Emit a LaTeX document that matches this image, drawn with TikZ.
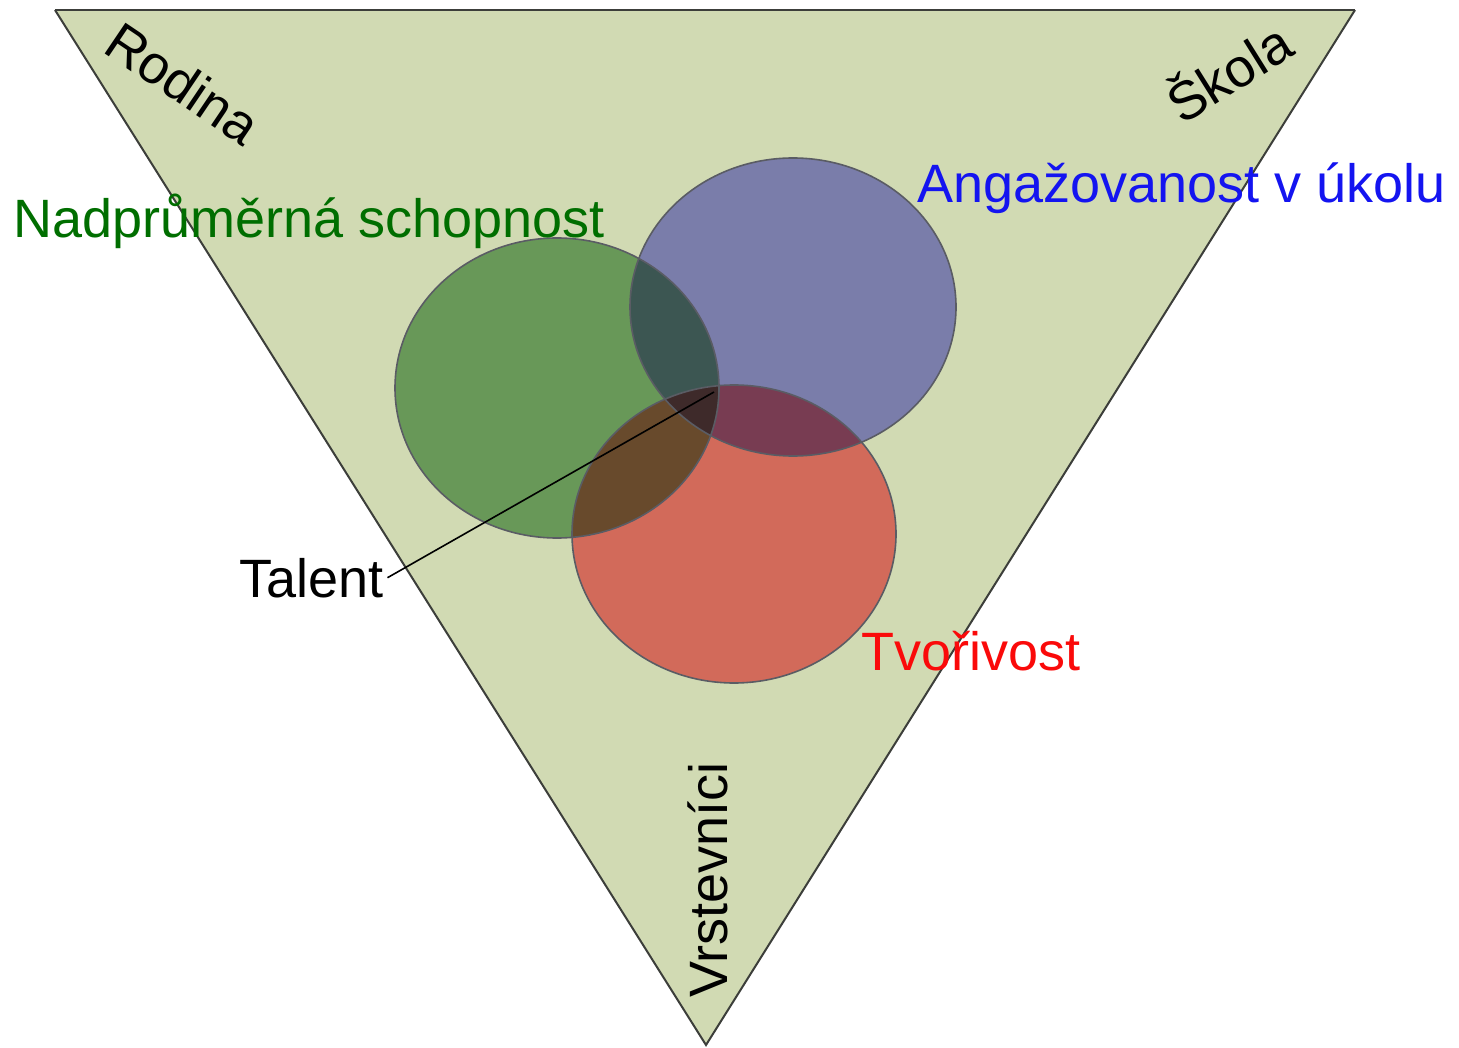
\documentclass[tikz,border=0pt]{standalone}
\usepackage{fontspec}
\setmainfont{Liberation Sans}
\definecolor{tri}{RGB}{209,218,179}
\definecolor{triedge}{RGB}{60,62,58}
\definecolor{cgreen}{RGB}{104,152,88}
\definecolor{cblue}{RGB}{122,125,170}
\definecolor{cred}{RGB}{210,106,90}
\definecolor{cgb}{RGB}{60,86,82}
\definecolor{cbr}{RGB}{120,60,82}
\definecolor{cgr}{RGB}{104,74,44}
\definecolor{cgbr}{RGB}{62,42,42}
\definecolor{circedge}{RGB}{90,92,100}
\definecolor{tgreen}{RGB}{0,110,0}
\definecolor{tblue}{RGB}{20,20,240}
\definecolor{tred}{RGB}{250,10,10}
\tikzset{
  lbl/.style={inner sep=4pt, font=\fontsize{54}{62}\selectfont},
  circline/.style={draw=circedge, line width=1.6pt},
}
\begin{document}
\begin{tikzpicture}[x=1pt,y=-1pt]
\useasboundingbox (0,0) rectangle (1459,1048);
% triangle
\coordinate (tl) at (55,10);
\coordinate (tr) at (1355,10);
\coordinate (bt) at (706,1045);
\fill[tri] (tl) -- (tr) -- (bt) -- cycle;
\draw[triedge, line width=2pt] (tl) -- (bt) -- (tr);
\draw[triedge, line width=2.8pt] (tl) -- (tr);
% circles
\def\gcirc{(557,388) ellipse [x radius=162, y radius=150]}
\def\bcirc{(793,307) ellipse [x radius=163, y radius=149]}
\def\rcirc{(734,534) ellipse [x radius=162, y radius=149]}
\fill[cgreen] \gcirc;
\fill[cblue] \bcirc;
\fill[cred] \rcirc;
\begin{scope}\clip \gcirc; \fill[cgb] \bcirc; \end{scope}
\begin{scope}\clip \bcirc; \fill[cbr] \rcirc; \end{scope}
\begin{scope}\clip \gcirc; \fill[cgr] \rcirc; \end{scope}
\begin{scope}\clip \gcirc; \clip \bcirc; \fill[cgbr] \rcirc; \end{scope}
\draw[circline] \gcirc;
\draw[circline] \bcirc;
\draw[circline] \rcirc;
% labels
\node[lbl, anchor=base west, text=tgreen] (nad) at (9,238) {Nadprůměrná schopnost};
\node[lbl, anchor=base west, text=tblue] (ang) at (913,203) {Angažovanost v úkolu};
\node[lbl, anchor=base west, text=tred] (tvo) at (857,670) {Tvořivost};
\node[lbl, anchor=base west, text=black] (tal) at (235,597) {Talent};
\node[lbl, rotate=-34, text=black] (rod) at (183,83) {Rodina};
\node[lbl, rotate=32, text=black] (sko) at (1227,70) {Škola};
\node[lbl, rotate=90, text=black] (vrs) at (708,880) {Vrstevníci};
% talent pointer
\coordinate (tc) at (714,392);
\draw[black, line width=1.6pt] (tal.east) -- (tc);
\end{tikzpicture}
\end{document}
